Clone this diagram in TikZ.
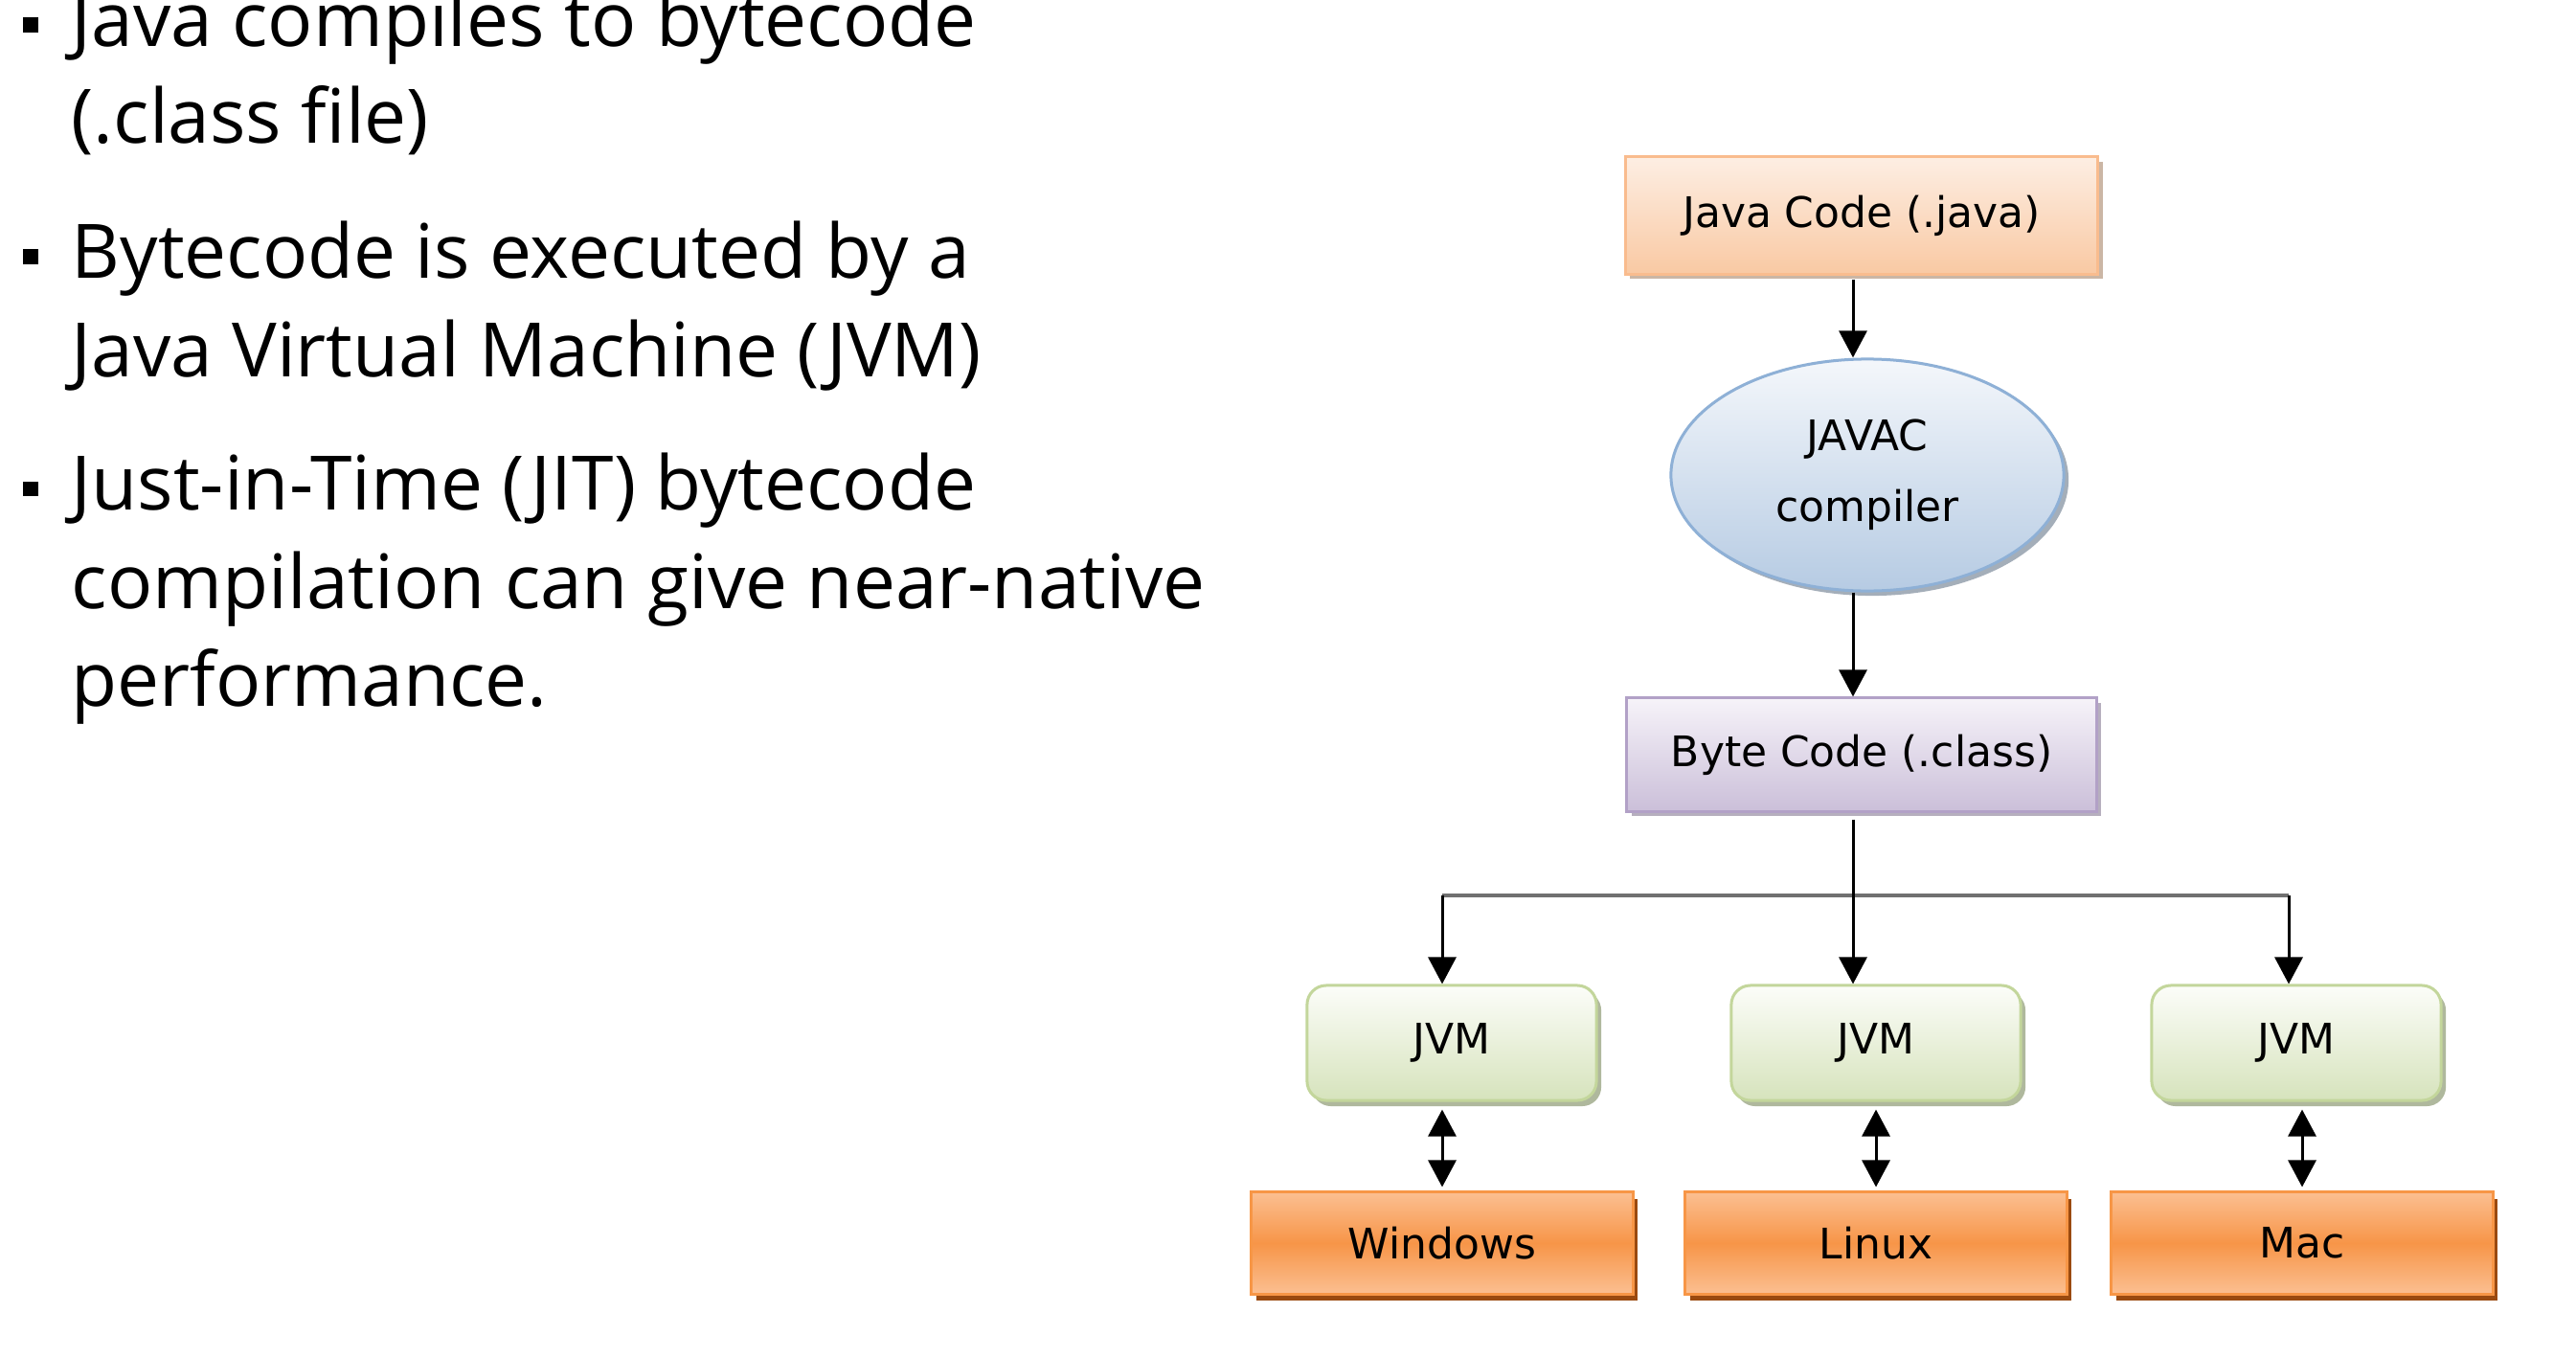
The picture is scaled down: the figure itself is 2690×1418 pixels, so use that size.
\documentclass[tikz,border=0pt]{standalone}
\usepackage{fontspec}
\setmainfont{Open Sans}
\newfontfamily\diagfont{DejaVu Sans}
\usetikzlibrary{arrows.meta,shapes.geometric,shadows}
\definecolor{jvTop}{HTML}{FDEEE3}
\definecolor{jvBot}{HTML}{F9C9A3}
\definecolor{jvLine}{HTML}{F9BC8E}
\definecolor{jvShadow}{HTML}{BFA48F}
\definecolor{ecTop}{HTML}{F4F7FB}
\definecolor{ecBot}{HTML}{B6CBE3}
\definecolor{ecLine}{HTML}{8EB0D6}
\definecolor{ecShadow}{HTML}{8E9AA8}
\definecolor{bcTop}{HTML}{F6F3F9}
\definecolor{bcBot}{HTML}{CBBFD9}
\definecolor{bcLine}{HTML}{B2A1C7}
\definecolor{bcShadow}{HTML}{A49BAE}
\definecolor{jmTop}{HTML}{FCFDF9}
\definecolor{jmBot}{HTML}{D6E3BC}
\definecolor{jmLine}{HTML}{C3D69B}
\definecolor{jmShadow}{HTML}{A7B193}
\definecolor{osLight}{HTML}{FBBF91}
\definecolor{osMid}{HTML}{F79548}
\definecolor{osLine}{HTML}{F79646}
\definecolor{osShadow}{HTML}{9A4A10}
\definecolor{hlGray}{HTML}{707070}
\tikzset{
  bullettxt/.style={anchor=base west, inner sep=0pt, font=\fontsize{22.3}{28}\selectfont},
  bulletsq/.style={fill=black, inner sep=0pt, minimum size=0.15cm},
  dtext/.style={font=\diagfont\fontsize{12.5}{21}\selectfont, text=black, align=center},
  javabox/.style={dtext, rectangle, draw=jvLine, line width=0.03cm, top color=jvTop, bottom color=jvBot,
     minimum width=4.93cm, minimum height=1.22cm,
     drop shadow={shadow xshift=0.05cm, shadow yshift=-0.05cm, fill=jvShadow, opacity=0.8}},
  javacell/.style={dtext, ellipse, draw=ecLine, line width=0.03cm, top color=ecTop, bottom color=ecBot,
     minimum width=4.1cm, minimum height=2.42cm, inner sep=0pt,
     drop shadow={shadow xshift=0.05cm, shadow yshift=-0.05cm, fill=ecShadow, opacity=0.8}},
  bytebox/.style={dtext, rectangle, draw=bcLine, line width=0.03cm, top color=bcTop, bottom color=bcBot,
     minimum width=4.9cm, minimum height=1.18cm,
     drop shadow={shadow xshift=0.05cm, shadow yshift=-0.05cm, fill=bcShadow, opacity=0.8}},
  jvmbox/.style={dtext, rectangle, rounded corners=0.2cm, draw=jmLine, line width=0.03cm, top color=jmTop, bottom color=jmBot,
     minimum width=3.02cm, minimum height=1.2cm,
     drop shadow={shadow xshift=0.05cm, shadow yshift=-0.06cm, fill=jmShadow, opacity=0.9}},
  osbox/.style={dtext, rectangle, draw=osLine, line width=0.03cm, top color=osLight, bottom color=osLight, middle color=osMid,
     minimum width=3.98cm, minimum height=1.06cm,
     drop shadow={shadow xshift=0.05cm, shadow yshift=-0.07cm, fill=osShadow, opacity=1}},
  arr/.style={draw=black, line width=0.03cm, -{Triangle[width=0.29cm,length=0.28cm]}},
  darr/.style={draw=black, line width=0.03cm, {Triangle[width=0.29cm,length=0.28cm]}-{Triangle[width=0.29cm,length=0.28cm]}},
  grayline/.style={draw=hlGray, line width=0.04cm}
}
\begin{document}
\begin{tikzpicture}[x=0.01cm,y=-0.01cm]
\useasboundingbox (0,0) rectangle (2690,1418);
\fill[white] (0,0) rectangle (2690,1418);

% left bullet text
\node[bullettxt] (t1) at (74,48) {Java compiles to bytecode};
\node[bullettxt] (t2) at (74,149) {(.class file)};
\node[bullettxt] (t3) at (74,290) {Bytecode is executed by a};
\node[bullettxt] (t4) at (74,393) {Java Virtual Machine (JVM)};
\node[bullettxt] (t5) at (74,532) {Just-in-Time (JIT) bytecode};
\node[bullettxt] (t6) at (74,635) {compilation can give near-native};
\node[bullettxt] (t7) at (74,737) {performance.};
\node[bulletsq] (b1) at (32,26) {};
\node[bulletsq] (b2) at (32,268) {};
\node[bulletsq] (b3) at (32,510) {};

% diagram nodes
\node[javabox] (java) at (1944,225) {Java Code (.java)};
\node[javacell] (javac) at (1950,496) {JAVAC\\compiler};
\node[bytebox] (bc) at (1944,788) {Byte Code (.class)};
\node[jvmbox] (jvm1) at (1516,1089) {JVM};
\node[jvmbox] (jvm2) at (1959,1089) {JVM};
\node[jvmbox] (jvm3) at (2398,1089) {JVM};
\node[osbox] (win) at (1506,1298) {Windows};
\node[osbox] (lin) at (1959,1298) {Linux};
\node[osbox] (mac) at (2404,1298) {Mac};

% connectors
\coordinate (cx) at (1935,0);
\coordinate (lj) at (1506,935);
\coordinate (rj) at (2390,935);
\draw[arr, shorten <=0.04cm] (java.south -| cx) -- (javac.north -| cx);
\draw[arr] (javac.south -| cx) -- (bc.north -| cx);
\draw[grayline] (lj) -- (rj);
\draw[arr, shorten <=0.07cm] (bc.south -| cx) -- (jvm2.north -| cx);
\draw[arr] (lj) -- (jvm1.north -| lj);
\draw[arr] (rj) -- (jvm3.north -| rj);
\draw[darr, shorten <=0.08cm, shorten >=0.04cm] (win.north |- jvm1.south) -- (win.north);
\draw[darr, shorten <=0.08cm, shorten >=0.04cm] (lin.north |- jvm2.south) -- (lin.north);
\draw[darr, shorten <=0.08cm, shorten >=0.04cm] (mac.north |- jvm3.south) -- (mac.north);
\end{tikzpicture}
\end{document}
